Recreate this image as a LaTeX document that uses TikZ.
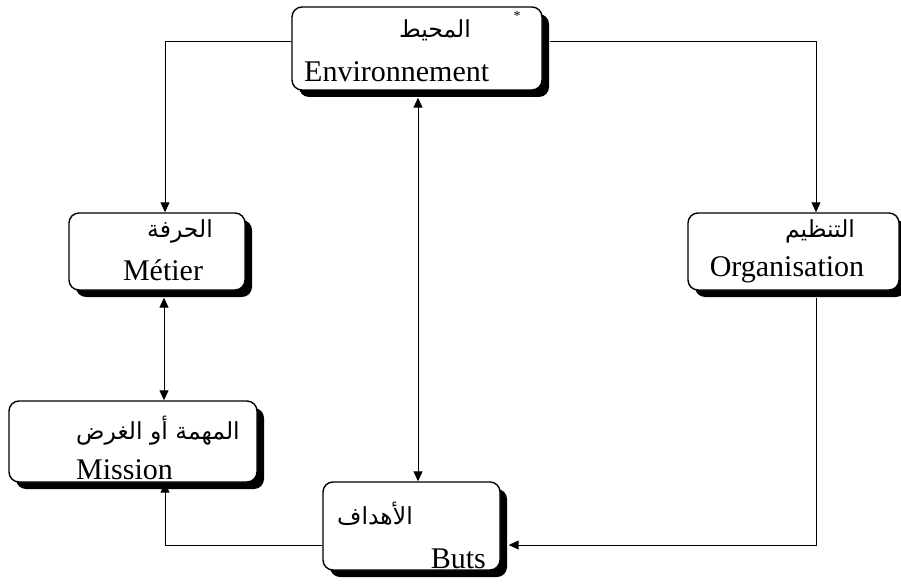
\documentclass[tikz,border=0pt]{standalone}
\usepackage{fontspec}
\setmainfont{Liberation Serif}
\newfontfamily\arabicfont[Script=Arabic]{DejaVu Sans}
\TeXXeTstate=1
\usetikzlibrary{shadows,arrows.meta}

\tikzset{
  box/.style={draw=black, line width=1.4pt, rounded corners=10pt, fill=white,
    rectangle, inner sep=0pt,
    general shadow={shadow xshift=7pt, shadow yshift=-7pt, fill=black}},
  link/.style={draw=black, line width=1pt},
  tip/.style={-{Triangle[length=10pt,width=9pt]}},
  tips/.style={{Triangle[length=10pt,width=9pt]}-{Triangle[length=10pt,width=9pt]}},
  fr/.style={font=\fontsize{30}{34}\selectfont, inner sep=0pt},
  ar/.style={font=\arabicfont\fontsize{23.5}{28}\selectfont, inner sep=0pt},
}

\begin{document}
\begin{tikzpicture}[x=1pt,y=-1pt]
  \useasboundingbox (0,0) rectangle (901,585);

  % boxes
  \node[box, minimum width=250pt, minimum height=83pt] (env) at (417,48.5) {};
  \node[box, minimum width=176pt, minimum height=77pt] (met) at (157,251.5) {};
  \node[box, minimum width=248pt, minimum height=81pt] (mis) at (133,441.5) {};
  \node[box, minimum width=177pt, minimum height=88pt] (but) at (411.5,526) {};
  \node[box, minimum width=211pt, minimum height=77pt] (org) at (793.5,251.5) {};

  % labels
  \node[ar] (envA) at (435,30) {\beginR المحيط\endR};
  \node[font=\fontsize{14}{14}\selectfont, inner sep=0pt] (star) at (517,16) {*};
  \node[fr, anchor=base west] (envF) at (304,82) {Environnement};
  \node[ar] (metA) at (180,231) {\beginR الحرفة\endR};
  \node[fr] (metF) at (163,270) {Métier};
  \node[ar] (misA) at (158,431) {\beginR المهمة أو الغرض\endR};
  \node[fr, anchor=base west] (misF) at (76,479) {Mission};
  \node[ar] (butA) at (375,514) {\beginR الأهداف\endR};
  \node[fr, anchor=base east] (butF) at (486,568) {Buts};
  \node[ar] (orgA) at (820,231) {\beginR التنظيم\endR};
  \node[fr] (orgF) at (787,270) {Organisation};

  % corner points of the connectors
  \coordinate (cML) at (165,42);
  \coordinate (cMR) at (816,42);
  \coordinate (cOB) at (816,545);
  \coordinate (cBL) at (165,545);

  % connectors
  \draw[link, tip] (env.west |- cML) -- (cML) -- (cML |- met.north);
  \draw[link, tip] ([xshift=7pt]env.east |- cMR) -- (cMR) -- (cMR |- org.north);
  \draw[link, tip] (cOB |- org.south) ++(0,7) -- (cOB) -- ([xshift=8pt]but.east |- cOB);
  \draw[link, tip] (but.west |- cBL) -- (cBL) -- (cBL |- mis.south);
  \draw[link, tips] ([yshift=-7pt]418,0 |- env.south) -- (418,0 |- but.north);
  \draw[link, tips] ([yshift=-7pt]164,0 |- met.south) -- (164,0 |- mis.north);
\end{tikzpicture}
\end{document}
